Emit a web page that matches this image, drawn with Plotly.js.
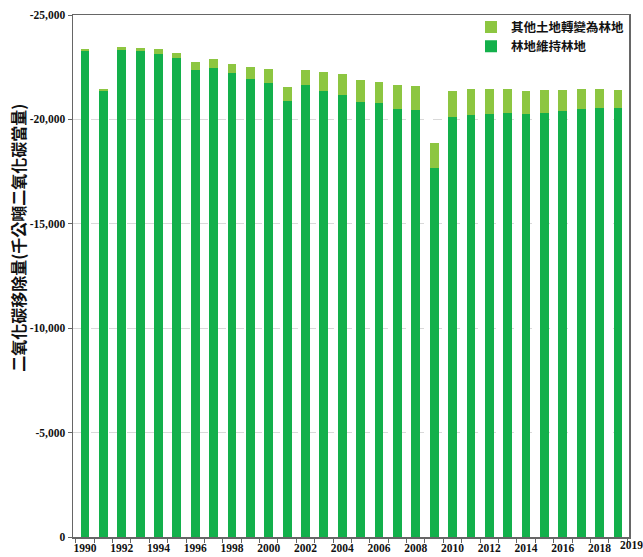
<!DOCTYPE html>
<html>
<head>
<meta charset="utf-8">
<script src="https://cdn.plot.ly/plotly-3.0.1.min.js"></script>
<style>html,body{margin:0;padding:0;background:#fff;}#chart{width:643px;height:557px;}</style>
</head>
<body>
<div id="chart"></div>
<script>
const years = [1990,1991,1992,1993,1994,1995,1996,1997,1998,1999,2000,2001,2002,2003,2004,2005,2006,2007,2008,2009,2010,2011,2012,2013,2014,2015,2016,2017,2018,2019];
const forestRemaining = [-23270,-21360,-23330,-23270,-23110,-22920,-22390,-22460,-22200,-21920,-21760,-20870,-21630,-21360,-21150,-20830,-20780,-20510,-20430,-17690,-20130,-20190,-20240,-20290,-20240,-20290,-20400,-20480,-20530,-20570];
const landConverted = [-80,-110,-160,-170,-260,-270,-340,-430,-460,-590,-660,-680,-750,-910,-1020,-1050,-1020,-1130,-1170,-1200,-1240,-1260,-1210,-1160,-1130,-1130,-1020,-970,-920,-850];
const seriesNames = ['林地維持林地','其他土地轉變為林地'];
const yTickVals = [0,-5000,-10000,-15000,-20000,-25000];
const yTickText = ['0','-5,000','-10,000','-15,000','-20,000','-25,000'];
const xTickVals = [1990,1992,1994,1996,1998,2000,2002,2004,2006,2008,2010,2012,2014,2016,2018];
const lastYearLabel = '2019';
const yTitle = '二氧化碳移除量(千公噸二氧化碳當量)';

const serif = '"Liberation Serif", "DejaVu Serif", serif';
const cjk = '"Noto Sans CJK TC", "Noto Sans CJK SC", sans-serif';

const traces = [
  {type:'bar', x: years, y: forestRemaining, name: seriesNames[0], marker:{color:'#13b04b'}},
  {type:'bar', x: years, y: landConverted, name: seriesNames[1], marker:{color:'#8dc641'}}
];

const layout = {
  width: 643, height: 557,
  margin: {l:73, r:14, t:15, b:20},
  barmode: 'stack',
  bargap: 0.52,
  paper_bgcolor:'#fff', plot_bgcolor:'#fff',
  showlegend: true,
  legend: {x:1.0, y:1.005, xanchor:'right', yanchor:'top', bgcolor:'rgba(0,0,0,0)',
           font:{family:cjk, size:12.5, color:'#111', weight:'bold'}, traceorder:'reversed', itemwidth:30},
  xaxis: {
    range:[1989.35, 2019.6], tickvals: xTickVals, ticktext: xTickVals.map(String),
    ticks:'', showgrid:false, zeroline:false,
    showline:true, mirror:true, linecolor:'#666', linewidth:1.5,
    tickfont:{family:serif, size:11.5, color:'#111', weight:'bold'},
    minor:{tick0:1989.5, dtick:1, ticks:'outside', ticklen:4, tickcolor:'#666', showgrid:false}
  },
  yaxis: {
    range:[0,-25000], tickvals:yTickVals, ticktext:yTickText,
    ticks:'outside', ticklen:4, tickcolor:'#666',
    showgrid:true, gridcolor:'#d9d9d9', griddash:'dash', gridwidth:1,
    zeroline:false, showline:true, mirror:true, linecolor:'#666', linewidth:1.5,
    tickfont:{family:serif, size:11.5, color:'#111', weight:'bold'}
  },
  annotations: [
    {text: yTitle, textangle:-90, xref:'paper', yref:'paper', x:-0.099, y:0.573, xanchor:'center', yanchor:'middle', showarrow:false,
     font:{family:cjk, size:16, color:'#111', weight:'bold'}},
    {text: lastYearLabel, xref:'paper', yref:'paper', x:1.004, y:-0.016, xanchor:'center', yanchor:'middle', showarrow:false,
     font:{family:serif, size:11.5, color:'#111', weight:'bold'}}
  ]
};

Plotly.newPlot('chart', traces, layout, {displayModeBar:false, staticPlot:true});
</script>
</body>
</html>
